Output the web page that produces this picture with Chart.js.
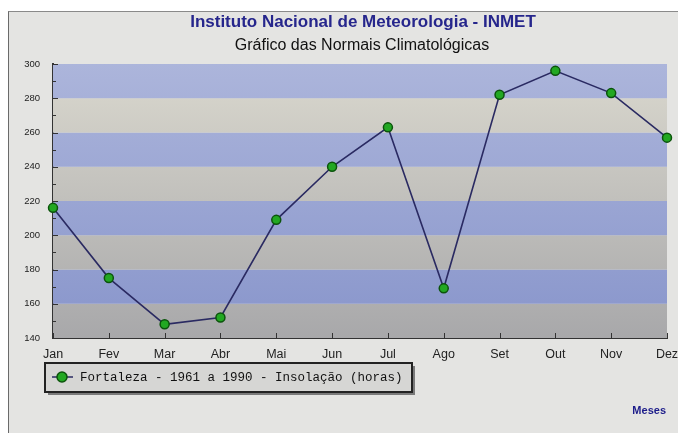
<!DOCTYPE html>
<html>
<head>
<meta charset="utf-8">
<script src="https://cdn.jsdelivr.net/npm/chart.js@4.4.0/dist/chart.umd.min.js"></script>
<style>
  html, body { margin: 0; padding: 0; background: #fff; }
  #panel {
    position: absolute; left: 8px; top: 11px; width: 670px; height: 422px;
    background: #e4e4e2; border-left: 1px solid #6a6a6a; border-top: 1px solid #8a8a8a;
  }
  #chart { position: absolute; left: 0; top: 0; }
</style>
</head>
<body>
<div id="panel"></div>
<canvas id="chart" width="678" height="433"></canvas>
<script>
// Normais climatológicas — Fortaleza, insolação mensal (horas)
const meses = ['Jan', 'Fev', 'Mar', 'Abr', 'Mai', 'Jun', 'Jul', 'Ago', 'Set', 'Out', 'Nov', 'Dez']
const insolacao = [216, 175, 148, 152, 209, 240, 263, 169, 282, 296, 283, 257]
const serieLabel = 'Fortaleza - 1961 a 1990 - Insolação (horas)'
const titulo = 'Instituto Nacional de Meteorologia - INMET'
const subtitulo = 'Gráfico das Normais Climatológicas'
const eixoX = 'Meses'
const yMin = 140
const yMax = 300
const yStep = 20

// ── bandas alternadas azul / cinza atrás da série ──
const bandas = {
  id: 'bandas',
  beforeDatasetsDraw (chart) {
    const { ctx, chartArea: a, scales: { y } } = chart
    const azul = ctx.createLinearGradient(0, a.top, 0, a.bottom)
    azul.addColorStop(0, 'rgb(172,181,219)')
    azul.addColorStop(1, 'rgb(136,149,203)')
    const cinza = ctx.createLinearGradient(0, a.top, 0, a.bottom)
    cinza.addColorStop(0, 'rgb(218,216,206)')
    cinza.addColorStop(1, 'rgb(168,168,170)')
    ctx.save()
    for (let v = yMin; v < yMax; v += yStep) {
      const top = y.getPixelForValue(v + yStep)
      const bot = y.getPixelForValue(v)
      ctx.fillStyle = ((v / yStep) % 2 === 0) ? azul : cinza
      ctx.fillRect(a.left, top, a.right - a.left, bot - top)
    }
    // marcas internas dos eixos
    ctx.strokeStyle = '#333'
    ctx.lineWidth = 1
    ctx.beginPath()
    for (let v = yMin; v <= yMax; v += yStep / 2) {
      const py = Math.round(y.getPixelForValue(v)) + 0.5
      const len = (v % yStep === 0) ? 5 : 3
      ctx.moveTo(a.left, py); ctx.lineTo(a.left + len, py)
    }
    const x = chart.scales.x
    meses.forEach((m, i) => {
      const px = Math.round(x.getPixelForValue(i)) + 0.5
      ctx.moveTo(px, a.bottom); ctx.lineTo(px, a.bottom - 5)
    })
    ctx.stroke()
    ctx.restore()
  }
}

// ── títulos, legenda em caixa e rótulo "Meses" ──
const textos = {
  id: 'textos',
  afterDraw (chart) {
    const { ctx } = chart
    ctx.save()
    ctx.textAlign = 'center'
    ctx.textBaseline = 'middle'
    ctx.fillStyle = '#26268c'
    ctx.font = 'bold 17px "Liberation Sans", Arial, sans-serif'
    ctx.fillText(titulo, 363, 22)
    ctx.fillStyle = '#111'
    ctx.font = '16px "Liberation Sans", Arial, sans-serif'
    ctx.fillText(subtitulo, 362, 46)

    // caixa da legenda com sombra
    const bx = 45, by = 363, bw = 367, bh = 29
    ctx.fillStyle = '#7a7a7a'
    ctx.fillRect(bx + 3, by + 3, bw, bh)
    ctx.fillStyle = '#d6d6d4'
    ctx.fillRect(bx, by, bw, bh)
    ctx.strokeStyle = '#222'
    ctx.lineWidth = 2
    ctx.strokeRect(bx, by, bw, bh)
    const ds = chart.data.datasets[0]
    ctx.strokeStyle = ds.borderColor
    ctx.lineWidth = 1.5
    ctx.beginPath(); ctx.moveTo(52, 377); ctx.lineTo(73, 377); ctx.stroke()
    ctx.beginPath(); ctx.arc(62, 377, 5, 0, Math.PI * 2)
    ctx.fillStyle = ds.pointBackgroundColor; ctx.fill()
    ctx.strokeStyle = ds.pointBorderColor; ctx.stroke()
    ctx.textAlign = 'left'
    ctx.fillStyle = '#111'
    ctx.font = '12.5px "Liberation Mono", "DejaVu Sans Mono", monospace'
    ctx.fillText(ds.label, 80, 378)

    ctx.textAlign = 'right'
    ctx.fillStyle = '#1c1c8a'
    ctx.font = 'bold 11px "Liberation Sans", Arial, sans-serif'
    ctx.fillText(eixoX, 666, 411)
    ctx.restore()
  }
}

new Chart(document.getElementById('chart'), {
  type: 'line',
  data: {
    labels: meses,
    datasets: [{
      label: serieLabel,
      data: insolacao,
      borderColor: '#2a2a62',
      borderWidth: 1.6,
      pointRadius: 4.5,
      pointBackgroundColor: '#22a822',
      pointBorderColor: '#0b540b',
      pointBorderWidth: 1.5,
      tension: 0
    }]
  },
  options: {
    responsive: false,
    animation: false,
    devicePixelRatio: 1,
    layout: { padding: { top: 64, left: 0, right: 0, bottom: 72 } },
    plugins: { legend: { display: false }, tooltip: { enabled: false }, title: { display: false } },
    scales: {
      x: {
        offset: false,
        afterFit: s => { s.height = 23; s.paddingRight = 11 },
        grid: { drawOnChartArea: false, drawTicks: false },
        border: { display: true, color: '#333', width: 2 },
        ticks: { padding: 9, color: '#222', font: { family: '"Liberation Sans", Arial, sans-serif', size: 12.5 }, maxRotation: 0, autoSkip: false }
      },
      y: {
        min: yMin,
        max: yMax,
        afterFit: s => { s.width = 53 },
        grid: { drawOnChartArea: false, drawTicks: false },
        border: { display: true, color: '#333', width: 2 },
        ticks: { stepSize: yStep, padding: 13, color: '#222', font: { family: '"Liberation Sans", Arial, sans-serif', size: 9.5 } }
      }
    }
  },
  plugins: [bandas, textos]
})
</script>
</body>
</html>
